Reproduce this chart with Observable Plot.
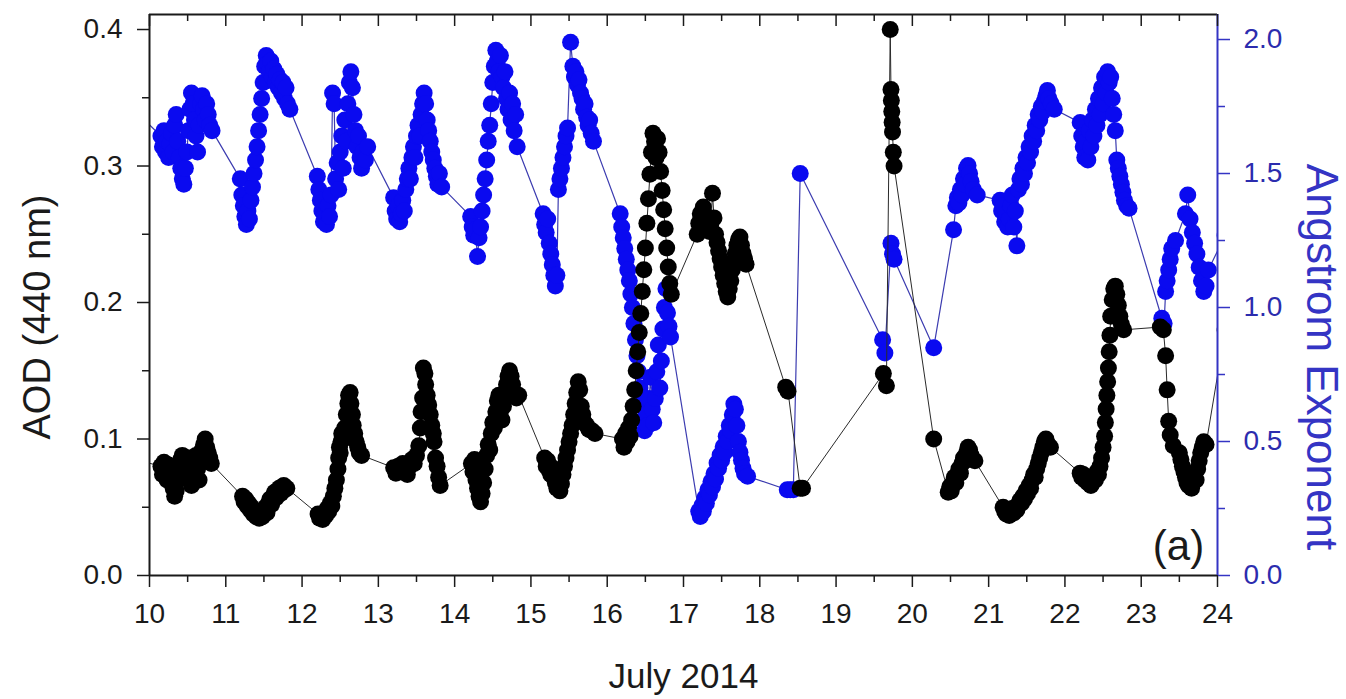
<!DOCTYPE html>
<html><head><meta charset="utf-8">
<script src="https://cdn.jsdelivr.net/npm/d3@7"></script>
<script src="https://cdn.jsdelivr.net/npm/@observablehq/plot@0.6"></script>
<style>body{margin:0;background:#fff;} svg{display:block;}</style>
</head><body><div id="chart"></div>
<script>
// AOD (440 nm): [day of July 2014, value]
const aod = [
[9.75,0.086],
[10.15,0.080],[10.17,0.074],[10.19,0.083],[10.21,0.078],[10.23,0.070],[10.25,0.081],[10.27,0.075],[10.29,0.068],[10.31,0.064],[10.33,0.058],[10.35,0.062],[10.37,0.070],[10.39,0.078],[10.41,0.085],[10.43,0.088],[10.45,0.082],[10.47,0.076],[10.49,0.086],[10.51,0.079],[10.53,0.072],[10.55,0.066],[10.57,0.074],[10.59,0.082],[10.61,0.088],[10.63,0.078],[10.65,0.070],[10.67,0.084],[10.69,0.092],[10.71,0.096],[10.73,0.100],[10.75,0.094],[10.77,0.090],[10.79,0.086],[10.81,0.082],
[11.22,0.058],[11.24,0.054],[11.26,0.056],[11.28,0.051],[11.30,0.053],[11.32,0.048],[11.34,0.050],[11.36,0.045],[11.38,0.047],[11.40,0.043],[11.42,0.046],[11.44,0.042],[11.46,0.045],[11.48,0.043],[11.50,0.047],[11.52,0.050],[11.54,0.046],[11.56,0.053],[11.58,0.056],[11.60,0.052],[11.62,0.058],[11.64,0.061],[11.66,0.057],[11.68,0.062],[11.70,0.064],[11.72,0.060],[11.74,0.065],[11.76,0.066],[11.78,0.063],[11.80,0.064],
[12.21,0.045],[12.23,0.042],[12.25,0.044],[12.27,0.041],[12.29,0.046],[12.31,0.044],[12.33,0.049],[12.35,0.047],[12.37,0.053],[12.39,0.051],[12.41,0.058],[12.43,0.064],[12.45,0.070],[12.47,0.078],[12.48,0.086],[12.49,0.094],[12.50,0.090],[12.51,0.098],[12.52,0.104],[12.54,0.100],[12.56,0.108],[12.58,0.118],[12.60,0.126],[12.61,0.132],[12.63,0.134],[12.64,0.126],[12.66,0.118],[12.67,0.110],[12.69,0.104],[12.71,0.098],[12.73,0.094],[12.75,0.090],[12.78,0.088],
[13.20,0.079],[13.23,0.075],[13.26,0.080],[13.29,0.076],[13.32,0.082],[13.35,0.078],[13.38,0.074],[13.41,0.080],[13.44,0.085],[13.47,0.082],[13.50,0.088],[13.53,0.095],[13.55,0.108],[13.56,0.120],[13.58,0.130],[13.59,0.152],[13.61,0.148],[13.62,0.140],[13.64,0.132],[13.66,0.125],[13.68,0.118],[13.70,0.110],[13.72,0.104],[13.73,0.098],[13.75,0.086],[13.77,0.080],[13.79,0.072],[13.81,0.066],
[14.22,0.082],[14.24,0.076],[14.26,0.085],[14.28,0.070],[14.30,0.064],[14.32,0.058],[14.34,0.054],[14.36,0.060],[14.38,0.068],[14.40,0.078],[14.42,0.088],[14.44,0.096],[14.46,0.092],[14.48,0.104],[14.50,0.112],[14.52,0.108],[14.54,0.120],[14.56,0.128],[14.58,0.132],[14.60,0.120],[14.62,0.114],[14.64,0.124],[14.66,0.134],[14.68,0.140],[14.70,0.146],[14.72,0.150],[14.74,0.146],[14.76,0.140],[14.78,0.134],[14.81,0.130],[14.84,0.132],
[15.18,0.086],[15.20,0.080],[15.22,0.084],[15.24,0.077],[15.26,0.074],[15.28,0.079],[15.30,0.072],[15.32,0.068],[15.34,0.064],[15.36,0.070],[15.38,0.062],[15.40,0.067],[15.42,0.074],[15.44,0.080],[15.46,0.086],[15.48,0.092],[15.50,0.098],[15.52,0.104],[15.54,0.110],[15.56,0.118],[15.58,0.126],[15.60,0.134],[15.62,0.142],[15.64,0.136],[15.66,0.124],[15.68,0.118],[15.70,0.112],[15.73,0.110],[15.76,0.107],[15.80,0.106],[15.84,0.104],
[16.20,0.100],[16.22,0.094],[16.24,0.104],[16.26,0.098],[16.28,0.108],[16.30,0.102],[16.32,0.114],[16.34,0.124],[16.36,0.136],[16.38,0.150],[16.40,0.164],[16.42,0.178],[16.44,0.192],[16.46,0.208],[16.48,0.224],[16.50,0.240],[16.52,0.258],[16.54,0.276],[16.56,0.294],[16.58,0.310],[16.60,0.324],[16.62,0.318],[16.64,0.306],[16.66,0.320],[16.68,0.310],[16.70,0.296],[16.72,0.282],[16.74,0.268],[16.76,0.254],[16.78,0.240],[16.80,0.226],[16.82,0.214],[16.84,0.206],
[17.18,0.250],[17.20,0.258],[17.22,0.265],[17.24,0.260],[17.26,0.270],[17.28,0.264],[17.30,0.256],[17.32,0.262],[17.34,0.252],[17.36,0.258],[17.38,0.280],[17.40,0.262],[17.42,0.250],[17.44,0.244],[17.46,0.238],[17.48,0.232],[17.50,0.226],[17.52,0.220],[17.54,0.214],[17.56,0.208],[17.58,0.204],[17.60,0.210],[17.62,0.216],[17.64,0.224],[17.66,0.230],[17.68,0.236],[17.70,0.242],[17.72,0.246],[17.74,0.248],[17.76,0.242],[17.78,0.236],[17.80,0.232],[17.82,0.228],
[18.34,0.138],[18.37,0.135],[18.53,0.064],[18.56,0.064],
[19.62,0.148],[19.66,0.139],[19.71,0.400],[19.72,0.356],[19.725,0.348],[19.73,0.340],[19.735,0.332],[19.74,0.325],[19.75,0.310],[19.76,0.300],
[20.28,0.100],
[20.47,0.061],[20.49,0.065],[20.51,0.062],[20.53,0.068],[20.55,0.072],[20.57,0.068],[20.59,0.074],[20.61,0.078],[20.63,0.075],[20.65,0.082],[20.67,0.086],[20.69,0.084],[20.71,0.090],[20.73,0.094],[20.75,0.092],[20.77,0.088],[20.79,0.085],[20.82,0.084],
[21.19,0.050],[21.21,0.047],[21.23,0.045],[21.25,0.048],[21.27,0.044],[21.29,0.046],[21.31,0.049],[21.33,0.046],[21.35,0.050],[21.37,0.048],[21.39,0.052],[21.41,0.055],[21.43,0.053],[21.45,0.058],[21.47,0.056],[21.49,0.062],[21.51,0.060],[21.53,0.066],[21.55,0.064],[21.57,0.070],[21.59,0.074],[21.61,0.072],[21.63,0.078],[21.65,0.082],[21.67,0.086],[21.69,0.090],[21.71,0.094],[21.73,0.098],[21.75,0.100],[21.78,0.096],[21.81,0.094],
[22.20,0.075],[22.22,0.072],[22.24,0.074],[22.26,0.070],[22.28,0.072],[22.30,0.068],[22.32,0.070],[22.34,0.066],[22.36,0.068],[22.38,0.072],[22.40,0.070],[22.42,0.076],[22.44,0.074],[22.46,0.080],[22.48,0.086],[22.50,0.094],[22.52,0.102],[22.53,0.112],[22.54,0.122],[22.55,0.132],[22.56,0.142],[22.57,0.152],[22.58,0.164],[22.59,0.176],[22.60,0.190],[22.62,0.202],[22.64,0.210],[22.66,0.212],[22.68,0.206],[22.70,0.198],[22.72,0.190],[22.74,0.184],[22.77,0.180],
[23.25,0.182],[23.29,0.180],[23.32,0.161],[23.34,0.136],[23.36,0.113],[23.38,0.103],[23.42,0.095],
[23.50,0.090],[23.52,0.085],[23.54,0.080],[23.56,0.076],[23.58,0.072],[23.60,0.068],[23.62,0.066],[23.64,0.070],[23.66,0.064],[23.68,0.068],[23.70,0.074],[23.72,0.070],[23.74,0.078],[23.76,0.084],[23.78,0.090],[23.80,0.094],[23.82,0.098],[23.85,0.096],
[24.10,0.180]
];
// Angstrom Exponent: [day of July 2014, value]
const angstrom = [
[9.75,1.75],
[10.15,1.64],[10.17,1.60],[10.19,1.66],[10.21,1.58],[10.23,1.62],[10.25,1.56],[10.27,1.61],[10.29,1.65],[10.31,1.58],[10.33,1.68],[10.35,1.72],[10.37,1.62],[10.39,1.56],[10.41,1.52],[10.43,1.48],[10.45,1.46],[10.47,1.52],[10.49,1.58],[10.51,1.66],[10.53,1.74],[10.55,1.80],[10.57,1.76],[10.59,1.70],[10.61,1.64],[10.63,1.58],[10.65,1.68],[10.67,1.76],[10.69,1.79],[10.71,1.74],[10.73,1.70],[10.75,1.76],[10.77,1.72],[10.79,1.68],[10.82,1.66],
[11.19,1.48],[11.21,1.42],[11.23,1.38],[11.25,1.34],[11.27,1.31],[11.29,1.36],[11.31,1.33],[11.33,1.40],[11.35,1.45],[11.37,1.50],[11.39,1.55],[11.41,1.60],[11.43,1.66],[11.45,1.72],[11.47,1.78],[11.49,1.84],[11.51,1.90],[11.53,1.94],[11.55,1.91],[11.57,1.88],[11.59,1.92],[11.61,1.86],[11.63,1.89],[11.65,1.84],[11.67,1.87],[11.69,1.82],[11.71,1.85],[11.73,1.80],[11.75,1.84],[11.77,1.78],[11.79,1.82],[11.81,1.76],[11.84,1.74],
[12.20,1.49],[12.22,1.44],[12.24,1.40],[12.26,1.36],[12.28,1.32],[12.30,1.35],[12.32,1.31],[12.34,1.38],[12.36,1.34],[12.38,1.42],[12.40,1.80],[12.42,1.76],[12.44,1.48],[12.46,1.54],[12.48,1.44],[12.50,1.58],[12.52,1.64],[12.54,1.52],[12.56,1.70],[12.58,1.62],[12.60,1.76],[12.62,1.84],[12.64,1.88],[12.66,1.82],[12.68,1.72],[12.70,1.66],[12.72,1.60],[12.74,1.64],[12.76,1.56],[12.78,1.52],[12.80,1.58],[12.83,1.55],[12.86,1.60],
[13.20,1.41],[13.22,1.36],[13.24,1.33],[13.26,1.38],[13.28,1.32],[13.30,1.35],[13.32,1.40],[13.34,1.36],[13.36,1.44],[13.38,1.48],[13.40,1.52],[13.42,1.48],[13.44,1.56],[13.46,1.60],[13.48,1.56],[13.50,1.64],[13.52,1.68],[13.54,1.64],[13.56,1.72],[13.58,1.76],[13.60,1.80],[13.62,1.76],[13.64,1.70],[13.66,1.66],[13.68,1.62],[13.70,1.58],[13.72,1.55],[13.74,1.52],[13.76,1.49],[13.78,1.46],[13.80,1.50],[13.83,1.45],
[14.21,1.34],[14.23,1.30],[14.25,1.27],[14.27,1.29],[14.30,1.19],[14.32,1.26],[14.34,1.30],[14.36,1.36],[14.38,1.42],[14.40,1.48],[14.42,1.55],[14.44,1.62],[14.46,1.68],[14.48,1.76],[14.50,1.84],[14.52,1.90],[14.54,1.96],[14.56,1.92],[14.58,1.88],[14.60,1.94],[14.62,1.86],[14.64,1.82],[14.66,1.88],[14.68,1.78],[14.70,1.74],[14.72,1.80],[14.74,1.70],[14.76,1.76],[14.78,1.66],[14.80,1.72],[14.82,1.60],
[15.16,1.35],[15.18,1.31],[15.20,1.28],[15.22,1.33],[15.24,1.24],[15.26,1.20],[15.28,1.16],[15.30,1.12],[15.32,1.08],[15.34,1.12],[15.36,1.44],[15.38,1.48],[15.40,1.52],[15.42,1.56],[15.44,1.60],[15.46,1.64],[15.48,1.67],[15.52,1.99],[15.55,1.90],[15.57,1.86],[15.59,1.88],[15.61,1.83],[15.63,1.85],[15.65,1.80],[15.67,1.78],[15.69,1.74],[15.71,1.76],[15.73,1.71],[15.75,1.68],[15.77,1.70],[15.79,1.65],[15.82,1.62],
[16.17,1.35],[16.19,1.30],[16.21,1.26],[16.23,1.22],[16.25,1.18],[16.27,1.14],[16.29,1.10],[16.31,1.05],[16.33,1.00],[16.35,0.94],[16.37,0.88],[16.39,0.82],[16.41,0.76],[16.43,0.70],[16.45,0.64],[16.47,0.58],[16.49,0.54],[16.51,0.60],[16.53,0.56],[16.55,0.66],[16.57,0.74],[16.59,0.62],[16.61,0.57],[16.63,0.66],[16.65,0.76],[16.67,0.86],[16.69,0.70],[16.71,0.80],[16.73,0.92],[16.75,1.00],[16.77,1.07],[16.79,0.98],[16.81,0.93],[16.83,0.89],
[17.20,0.24],[17.22,0.22],[17.24,0.26],[17.26,0.24],[17.28,0.29],[17.30,0.27],[17.32,0.32],[17.34,0.30],[17.36,0.35],[17.38,0.33],[17.40,0.38],[17.42,0.36],[17.44,0.42],[17.46,0.40],[17.48,0.45],[17.50,0.43],[17.52,0.48],[17.54,0.46],[17.56,0.52],[17.58,0.50],[17.60,0.56],[17.62,0.54],[17.64,0.60],[17.66,0.64],[17.68,0.62],[17.70,0.56],[17.72,0.50],[17.74,0.46],[17.76,0.43],[17.78,0.40],[17.80,0.38],[17.84,0.37],
[18.36,0.32],[18.40,0.32],[18.44,0.32],[18.53,1.50],
[19.61,0.88],[19.64,0.83],[19.72,1.24],[19.74,1.20],[19.76,1.18],[20.28,0.85],
[20.54,1.29],[20.57,1.38],[20.59,1.41],[20.61,1.39],[20.63,1.44],[20.65,1.42],[20.67,1.48],[20.69,1.46],[20.71,1.52],[20.73,1.53],[20.75,1.50],[20.77,1.47],[20.80,1.44],[20.85,1.42],
[21.15,1.40],[21.17,1.36],[21.19,1.38],[21.21,1.32],[21.23,1.35],[21.25,1.30],[21.27,1.33],[21.29,1.38],[21.31,1.42],[21.33,1.30],[21.35,1.36],[21.37,1.23],[21.39,1.44],[21.41,1.48],[21.43,1.46],[21.45,1.52],[21.47,1.50],[21.49,1.56],[21.51,1.54],[21.53,1.60],[21.55,1.58],[21.57,1.64],[21.59,1.62],[21.61,1.68],[21.63,1.66],[21.65,1.72],[21.67,1.70],[21.69,1.75],[21.71,1.73],[21.73,1.77],[21.75,1.79],[21.77,1.81],[21.79,1.78],[21.82,1.76],[21.86,1.74],
[22.20,1.69],[22.22,1.64],[22.24,1.60],[22.26,1.56],[22.28,1.62],[22.30,1.55],[22.32,1.66],[22.34,1.60],[22.36,1.70],[22.38,1.64],[22.40,1.74],[22.42,1.68],[22.44,1.78],[22.46,1.72],[22.48,1.82],[22.50,1.76],[22.52,1.86],[22.54,1.80],[22.56,1.88],[22.58,1.84],[22.60,1.86],[22.62,1.78],[22.64,1.72],[22.66,1.66],[22.68,1.55],[22.70,1.52],[22.72,1.49],[22.74,1.46],[22.76,1.43],[22.78,1.40],[22.81,1.38],[22.84,1.37],
[23.27,0.96],[23.30,0.94],[23.32,1.06],[23.34,1.10],[23.36,1.14],[23.38,1.18],[23.40,1.22],[23.45,1.25],[23.58,1.35],[23.61,1.42],[23.64,1.33],[23.67,1.28],[23.70,1.24],[23.73,1.20],[23.76,1.15],[23.79,1.10],[23.82,1.06],[23.85,1.08],[23.88,1.14],
[24.10,1.27]
];
const dayTicks = [10,11,12,13,14,15,16,17,18,19,20,21,22,23,24];
const dayMinor = [10.5,11.5,12.5,13.5,14.5,15.5,16.5,17.5,18.5,19.5,20.5,21.5,22.5,23.5];
const aodTicks = [0.0,0.1,0.2,0.3,0.4];
const aodMinor = [0.05,0.15,0.25,0.35];
const aeTicks = [0.0,0.5,1.0,1.5,2.0];
const aeMinor = [0.25,0.75,1.25,1.75];

const BLUE_AX = "#3434c4", BLUE_TXT = "#2c2cae", BLUE_DOT = "#0a0af0", BLUE_LINE = "#3c3cb0";
const INK = "#1a1a1a";
const yMax = 0.411;                  // AOD at top of frame
const k = 0.4 * 536 / (2.0 * 546);   // Angstrom value -> AOD-axis units
const pxPerAod = (699 - 124 - 14) / yMax;
const R = 8.5;
const TICK_FS = 28;

const chart = Plot.plot({
  width: 1346, height: 699,
  marginLeft: 149, marginRight: 129, marginTop: 14, marginBottom: 124,
  style: {fontFamily: "'Liberation Sans', Arial, sans-serif", fontSize: TICK_FS + "px", color: INK, background: "#fff"},
  x: {domain: [10, 24]},
  y: {domain: [0, yMax]},
  marks: [
    Plot.line(angstrom, {x: d => d[0], y: d => d[1] * k, stroke: BLUE_LINE, strokeWidth: 1.2, clip: true}),
    Plot.dot(angstrom, {x: d => d[0], y: d => d[1] * k, r: R, fill: BLUE_DOT, clip: true}),
    Plot.line(aod, {x: d => d[0], y: d => d[1], stroke: "#2a2a2a", strokeWidth: 1, clip: true}),
    Plot.dot(aod, {x: d => d[0], y: d => d[1], r: R, fill: "#000", clip: true}),
    // frame
    Plot.ruleY([yMax], {stroke: INK, strokeWidth: 2}),
    Plot.ruleY([0], {stroke: INK, strokeWidth: 2}),
    Plot.ruleX([10], {stroke: INK, strokeWidth: 2}),
    Plot.ruleX([24], {stroke: BLUE_AX, strokeWidth: 2}),
    // bottom axis
    Plot.axisX(dayTicks, {anchor: "bottom", tickSize: 12, tickPadding: 16, fontSize: TICK_FS, strokeWidth: 1.5, tickFormat: d => String(d), label: null}),
    Plot.axisX(dayMinor, {anchor: "bottom", tickSize: 7, strokeWidth: 1.5, tickFormat: () => "", label: null}),
    // top inward ticks
    Plot.ruleX(dayTicks, {x: d => d, y1: yMax, y2: yMax - 12 / pxPerAod, stroke: INK, strokeWidth: 1.5}),
    Plot.ruleX(dayMinor, {x: d => d, y1: yMax, y2: yMax - 7 / pxPerAod, stroke: INK, strokeWidth: 1.5}),
    // left axis
    Plot.axisY(aodTicks, {anchor: "left", tickSize: 12, tickPadding: 15, fontSize: TICK_FS, strokeWidth: 1.5, tickFormat: d => d.toFixed(1), label: null}),
    Plot.axisY(aodMinor, {anchor: "left", tickSize: 7, strokeWidth: 1.5, tickFormat: () => "", label: null}),
    // right axis (Angstrom)
    Plot.axisY(aeTicks.map(v => v * k), {anchor: "right", tickSize: 12, tickPadding: 14, fontSize: TICK_FS, strokeWidth: 1.5, color: BLUE_TXT, stroke: BLUE_AX, fill: BLUE_TXT, tickFormat: d => (d / k).toFixed(1), label: null}),
    Plot.axisY(aeMinor.map(v => v * k), {anchor: "right", tickSize: 7, strokeWidth: 1.5, color: BLUE_AX, stroke: BLUE_AX, tickFormat: () => "", label: null}),
    // titles
    Plot.text(["AOD (440 nm)"], {frameAnchor: "left", text: d => d, dx: -112, dy: 22, rotate: -90, fontSize: 38, fill: INK, textAnchor: "middle", lineAnchor: "middle"}),
    Plot.text(["Angstrom Exponent"], {frameAnchor: "right", text: d => d, dx: 104, dy: 62, rotate: 90, fontSize: 44, fill: BLUE_AX, textAnchor: "middle", lineAnchor: "middle"}),
    Plot.text(["July 2014"], {frameAnchor: "bottom", text: d => d, dy: 101, fontSize: 35, fill: INK, textAnchor: "middle", lineAnchor: "middle"}),
    Plot.text(["(a)"], {frameAnchor: "bottom-right", text: d => d, dx: -39, dy: -29, fontSize: 42, fill: INK, textAnchor: "middle", lineAnchor: "middle"})
  ]
});
document.getElementById("chart").appendChild(chart);
</script>
</body></html>
